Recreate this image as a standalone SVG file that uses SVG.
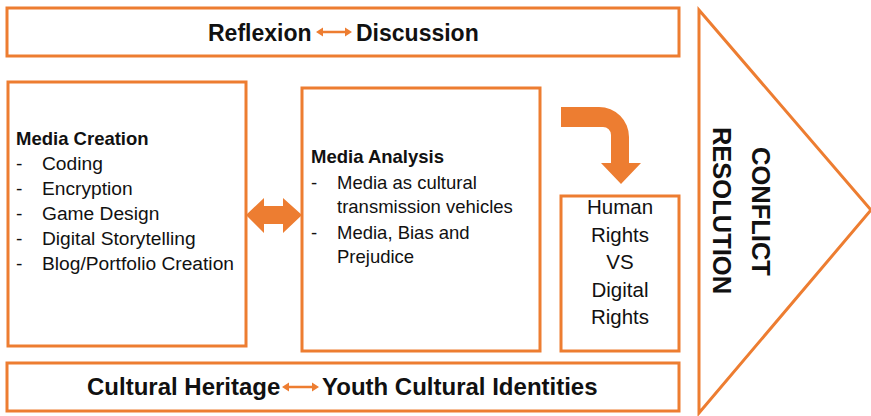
<svg xmlns="http://www.w3.org/2000/svg" width="871" height="416" viewBox="0 0 871 416">
<style>
.box{fill:#fff;stroke:#ED7D31;stroke-width:3}
.t{font-family:"Liberation Sans",Arial,sans-serif;fill:#111}
.b{font-weight:bold}
.body{font-size:18.5px}
.body2{font-size:19.2px}
.hd{font-size:23px;font-weight:bold}
.hd2{font-size:24px;font-weight:bold}
.hr{font-size:20.5px;text-anchor:middle}
.cr{font-size:25.5px;font-weight:bold;text-anchor:middle}
.arr{fill:#ED7D31}
</style>
<rect width="871" height="416" fill="#fff"/>
<g id="conflict-resolution">
<polygon class="box" points="699,10 871,210 699,413"/>
<text class="t cr" transform="translate(752,211.5) rotate(90)">CONFLICT</text>
<text class="t cr" transform="translate(713,210.5) rotate(90)">RESOLUTION</text>
</g>
<g id="reflexion-discussion">
<rect class="box" x="7" y="8" width="672" height="48"/>
<text class="t hd" x="208" y="41">Reflexion</text>
<text class="t hd" x="356" y="41">Discussion</text>
</g>
<g id="media-creation">
<rect class="box" x="8" y="82" width="238" height="264"/>
<text class="t body b" x="16" y="145">Media Creation</text>
<g class="t body2">
<text x="16" y="170">-</text><text x="42" y="170">Coding</text>
<text x="16" y="195">-</text><text x="42" y="195">Encryption</text>
<text x="16" y="220">-</text><text x="42" y="220">Game Design</text>
<text x="16" y="245">-</text><text x="42" y="245">Digital Storytelling</text>
<text x="16" y="270">-</text><text x="42" y="270">Blog/Portfolio Creation</text>
</g>
</g>
<g id="media-analysis">
<rect class="box" x="302" y="88" width="238" height="263"/>
<text class="t body b" x="311" y="163">Media Analysis</text>
<g class="t body">
<text x="311" y="189">-</text><text x="337" y="189">Media as cultural</text>
<text x="337" y="213">transmission vehicles</text>
<text x="311" y="239">-</text><text x="337" y="239">Media, Bias and</text>
<text x="337" y="263">Prejudice</text>
</g>
</g>
<g id="human-digital-rights">
<rect class="box" x="561" y="196" width="118" height="155"/>
<g class="t hr">
<text x="620" y="214">Human</text>
<text x="620" y="242">Rights</text>
<text x="620" y="269">VS</text>
<text x="620" y="297">Digital</text>
<text x="620" y="324">Rights</text>
</g>
</g>
<g id="heritage-identities">
<rect class="box" x="7" y="363" width="672" height="48"/>
<text class="t hd2" x="87" y="395">Cultural Heritage</text>
<text class="t hd2" x="322" y="395">Youth Cultural Identities</text>
</g>
<g id="connectors">
<polygon class="arr" points="316,32 323,27.5 323,30.7 345,30.7 345,27.5 352,32 345,36.5 345,33.3 323,33.3 323,36.5"/>
<polygon class="arr" points="282,387 289,382.5 289,385.7 312,385.7 312,382.5 319,387 312,391.5 312,388.3 289,388.3 289,391.5"/>
<polygon class="arr" points="246,215 264,198 264,206 283,206 283,198 302,215 283,233 283,224 264,224 264,233"/>
<path class="arr" d="M561,107 L599,107 A30,30 0 0 1 629,137 L629,163 L641,163 L621,184 L601,163 L611,163 L611,135 A8,8 0 0 0 603,127 L561,127 Z"/>
</g>
</svg>
